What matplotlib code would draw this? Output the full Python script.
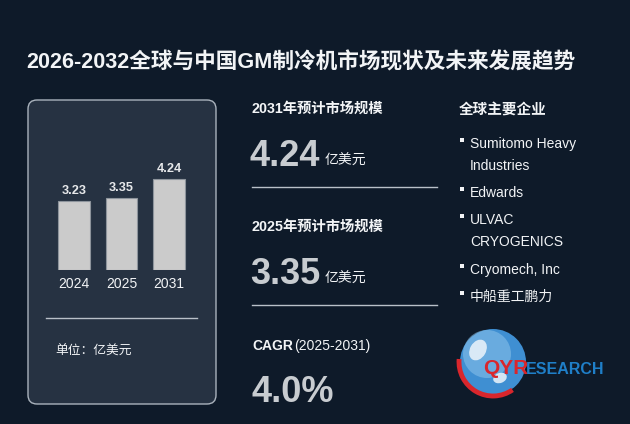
import matplotlib
matplotlib.use("Agg")
import matplotlib.pyplot as plt
from matplotlib.patches import FancyBboxPatch, Circle, Arc, Ellipse

# Chart data
years = ["2024", "2025", "2031"]
market_size = [3.23, 3.35, 4.24]

title = "2026-2032全球与中国GM制冷机市场现状及未来发展趋势"
stat_labels = ["2031年预计市场规模", "2025年预计市场规模"]
stat_values = ["4.24", "3.35"]
unit = "亿美元"
cagr_label = "CAGR"
cagr_period = "(2025-2031)"
cagr_value = "4.0%"
companies_title = "全球主要企业"
companies = [["Sumitomo Heavy", "Industries"], ["Edwards"],
             ["ULVAC", "CRYOGENICS"], ["Cryomech, Inc"], ["中船重工鹏力"]]

BG = "#0e1a29"
PANEL = "#263242"
WHITE = "#f2f4f6"
GREY_NUM = "#c8ccd0"
FONTS = ["Liberation Sans", "Noto Sans CJK SC", "DejaVu Sans"]
CJK = ["Noto Sans CJK SC", "DejaVu Sans"]

W, H = 630, 424
fig = plt.figure(figsize=(W / 100, H / 100), dpi=100, facecolor=BG)

# full-figure axes in pixel units for layout
bg = fig.add_axes([0, 0, 1, 1])
bg.set_xlim(0, W)
bg.set_ylim(H, 0)
bg.axis("off")
bg.set_facecolor(BG)

bg.text(301, 63, title, fontsize=15.6, fontweight="bold", color=WHITE,
        ha="center", va="center", family=FONTS)

# left panel
panel = FancyBboxPatch((28, 100), 188, 304,
                       boxstyle="round,pad=0,rounding_size=9",
                       facecolor=PANEL, edgecolor="#aab3bd", linewidth=1.0)
bg.add_patch(panel)
bg.plot([46, 197], [318, 318], color="#b9c0c8", lw=1.0)
bg.text(55, 351, "单位：亿美元", fontsize=9.2, color=WHITE,
        ha="left", va="center", family=CJK)

# bar chart inside the panel
px_per_unit = 21.45
x_spacing = 47.5
ax_left = 74 - x_spacing / 2
ax = fig.add_axes([ax_left / W, (H - 270) / H, 3 * x_spacing / W,
                   5 * px_per_unit / H])
ax.patch.set_alpha(0)
bars = ax.bar(range(len(years)), market_size, width=0.67,
              color="#cbcbcb", edgecolor="#8d949c", linewidth=0.8)
ax.set_xlim(-0.5, len(years) - 0.5)
ax.set_ylim(0, 5)
ax.set_xticks(range(len(years)))
ax.set_xticklabels(years, fontsize=10, color=WHITE, family=FONTS)
ax.tick_params(axis="x", length=0, pad=5)
ax.set_yticks([])
for s in ax.spines.values():
    s.set_visible(False)
ax.bar_label(bars, labels=[f"{v:.2f}" for v in market_size], padding=3,
             fontsize=9.2, fontweight="bold", color="#e6e8ea", family=FONTS)

# middle column: key figures
stat_y = [109, 227]
for lab, val, y in zip(stat_labels, stat_values, stat_y):
    bg.text(252, y, lab, fontsize=10.3, fontweight="bold", color=WHITE,
            ha="left", va="center", family=FONTS)
    bg.text(250, y + 48, val, fontsize=26, fontweight="bold",
            color=GREY_NUM, ha="left", va="center", family=FONTS)
    bg.text(325, y + 52, unit, fontsize=10, color=WHITE,
            ha="left", va="center", family=CJK)
    bg.plot([252, 437], [y + 78, y + 78], color="#b9c0c8", lw=1.0)

bg.text(252, 346, cagr_label, fontsize=10, fontweight="bold", color=WHITE,
        ha="left", va="center", family=FONTS)
bg.text(294, 346, cagr_period, fontsize=10, color=WHITE,
        ha="left", va="center", family=FONTS)
bg.text(251, 393, cagr_value, fontsize=26, fontweight="bold",
        color=GREY_NUM, ha="left", va="center", family=FONTS)

# right column: companies
bg.text(459, 110, companies_title, fontsize=10.5, fontweight="bold",
        color=WHITE, ha="left", va="center", family=CJK)
item_y = [144, 193, 220, 270, 297]
line_gap = 22.5
for lines, y in zip(companies, item_y):
    bg.scatter([461.5], [y - 4], marker="s", s=5, color=WHITE, lw=0)
    for k, line in enumerate(lines):
        bg.text(470, y + k * line_gap, line, fontsize=10, color=WHITE,
                ha="left", va="center", family=FONTS)

# logo
bg.add_patch(Circle((493, 362), 33, facecolor="#3f8fd2", edgecolor="none"))
bg.add_patch(Circle((487, 354), 24, facecolor="#8cc3ea", edgecolor="none",
                    alpha=0.55))
bg.add_patch(Ellipse((478, 350), 16, 22, angle=30, facecolor="#eef5fb",
                     edgecolor="none", alpha=0.85))
bg.add_patch(Ellipse((500, 378), 14, 10, angle=-20, facecolor="#eef5fb",
                     edgecolor="none", alpha=0.85))
bg.add_patch(Arc((493, 362), 68, 68, theta1=55, theta2=185,
                 color="#d9262c", lw=3.5))
bg.text(483, 369, "QYR", fontsize=15, fontweight="bold", color="#d9262c",
        ha="left", va="center", family=FONTS)
bg.text(526, 369, "ESEARCH", fontsize=11.5, fontweight="bold",
        color="#1f7fc8", ha="left", va="center", family=FONTS)

fig.savefig("out.png", dpi=100, facecolor=BG)
